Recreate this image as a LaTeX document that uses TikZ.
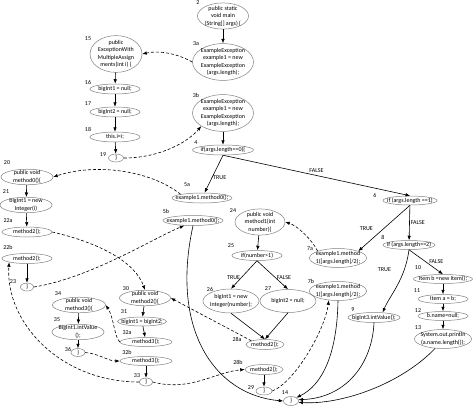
\documentclass[tikz,border=0pt]{standalone}
\usepackage{fontspec}
\setmainfont{Carlito}
\usetikzlibrary{shapes.geometric,arrows.meta}

\newcommand{\stmtfont}{\fontsize{6}{7.5}\selectfont}
\newcommand{\ctext}[1]{\makebox[0pt]{\begin{tabular}{@{}c@{}}#1\end{tabular}}}

\tikzset{
	stmt/.style={ellipse, draw=black!50, line width=0.5pt, inner xsep=0pt, inner ysep=-2pt, minimum width=50pt, minimum height=10pt, font=\stmtfont},
	brace/.style={stmt, minimum width=15pt, minimum height=8pt},
	num/.style={font=\stmtfont, inner sep=0pt},
	cond/.style={font=\stmtfont, inner sep=1pt},
	flow/.style={->, line width=0.6pt},
	call/.style={->, line width=0.6pt, densely dashed},
}

\begin{document}
\begin{tikzpicture}[x=1pt, y=-1pt, >={Latex[length=4.5pt,width=3.5pt]}]
\useasboundingbox (0,0) rectangle (474,410);

% main
\node[stmt, minimum width=51pt] (n2) at (223,16) {\ctext{public static\\void main\\(String[] args) \{}};
\node[stmt, minimum width=61pt] (n3a) at (223,62) {\ctext{ExampleException\\example1 = new\\ExampleException\\(args.length);}};
\node[stmt, minimum width=61pt] (n3b) at (223,113) {\ctext{ExampleException\\example1 = new\\ExampleException\\(args.length);}};
\node[stmt, minimum width=61pt] (n4) at (223,150) {\ctext{if(args.length==0)\{}};
\node[stmt, minimum width=60pt] (n5a) at (202,198) {\ctext{example1.method0();}};
\node[stmt, minimum width=60pt] (n5b) at (193,220.5) {\ctext{example1.method0();}};
\node[stmt, minimum width=54pt, minimum height=9pt] (n6) at (410,200.5) {\ctext{if (args.length ==1)}};
\node[stmt, minimum width=57pt, minimum height=19pt] (n7a) at (338,258) {\ctext{example1.method\\1([args.length]/2);}};
\node[stmt, minimum width=57pt, minimum height=19pt] (n7b) at (338,291) {\ctext{example1.method\\1([args.length]/2);}};
\node[stmt, minimum width=52pt, minimum height=9pt] (n8) at (409,245) {\ctext{if (args.length==2)}};
\node[stmt, minimum width=52pt] (n9) at (374,317.5) {\ctext{bigInt3.intValue();}};
\node[stmt, minimum width=59pt, minimum height=9pt] (n10) at (443,279) {\ctext{Item b =new Item();}};
\node[stmt, minimum height=9pt] (n11) at (443,299) {\ctext{Item a = b;}};
\node[stmt, minimum height=9pt] (n12) at (443,316) {\ctext{b.name=null;}};
\node[stmt, minimum width=57pt, minimum height=19pt] (n13) at (443,339) {\ctext{System.out.println\\(a.name.length());}};
\node[brace, minimum height=9pt] (n14) at (291,401) {\ctext{\}}};

% constructor
\node[stmt, minimum width=52pt] (n15) at (116,54) {\ctext{public\\ExceptionWith\\MultipleAssign\\ments(int i) \{}};
\node[stmt] (n16) at (115,89) {\ctext{bigInt1 = null;}};
\node[stmt] (n17) at (115,112) {\ctext{bigInt2 = null;}};
\node[stmt] (n18) at (115,137) {\ctext{this.i=i;}};
\node[brace] (n19) at (116,158) {\ctext{\}}};

% method0
\node[stmt, minimum width=52pt] (n20) at (27,177) {\ctext{public void\\method0()\{}};
\node[stmt, minimum width=52pt] (n21) at (26,205) {\ctext{bigInt1 = new\\Integer(i)}};
\node[stmt] (n22a) at (27,232) {\ctext{method2();}};
\node[stmt] (n22b) at (27,258.5) {\ctext{method2();}};
\node[brace, minimum width=13pt] (n23) at (27,287) {\ctext{\}}};

% method1
\node[stmt] (n24) at (260,222) {\ctext{public void\\method1(int\\number)\{}};
\node[stmt] (n25) at (257,255.5) {\ctext{if(number>1)}};
\node[stmt, minimum width=56pt, minimum height=24pt] (n26) at (231,301) {\ctext{bigInt1 = new\\Integer(number);}};
\node[stmt, minimum width=56pt, minimum height=23pt] (n27) at (288,301) {\ctext{bigInt2 = null;}};
\node[stmt, minimum width=38pt] (n28a) at (265,344.5) {\ctext{method2();}};
\node[stmt, minimum width=38pt] (n28b) at (264,369.5) {\ctext{method2();}};
\node[brace, minimum width=16pt] (n29) at (264,391) {\ctext{\}}};

% method2
\node[stmt, minimum width=51pt] (n30) at (145,298) {\ctext{public void\\method2()\{}};
\node[stmt, minimum width=49pt, minimum height=9pt] (n31) at (142,321.5) {\ctext{bigInt1 = bigInt2;}};
\node[stmt, minimum width=52pt, minimum height=9pt] (n32a) at (146,342) {\ctext{method3();}};
\node[stmt, minimum width=52pt, minimum height=9pt] (n32b) at (146,361) {\ctext{method3();}};
\node[brace, minimum width=13pt] (n33) at (146,382) {\ctext{\}}};

% method3
\node[stmt, minimum width=53pt] (n34) at (79,305) {\ctext{public void\\method3()\{}};
\node[stmt, minimum width=52pt] (n35) at (78,332) {\ctext{BigInt1.intValue\\();}};
\node[brace, minimum width=14pt] (n36) at (78,352.5) {\ctext{\}}};

% statement numbers
\foreach \lab/\px/\py in {2/198/3, 3a/196/44, 3b/196/95, 4/196/143, 5a/187/185, 5b/166/211,
	6/375/195, 7a/310/249, 7b/311/281, 8/383/237, 9/353/310, 10/418/268, 11/417/291,
	12/418/311, 13/418/328, 14/285/393, 15/88/39, 16/88/82, 17/88/104, 18/88/129,
	19/103/155, 20/7/163, 21/6/192, 22a/8/221, 22b/8/247, 23/13/282, 24/233/211,
	25/231/246, 26/210/289, 27/268/289, 28a/237/339, 28b/238/362, 29/251/388,
	30/126/289, 31/124/312, 32a/127/333, 32b/127/352, 33/137/376, 34/58/294,
	35/57/320, 36/68/349}
	\node[num] (l\lab) at (\px,\py) {\lab};

% control flow
\foreach \a/\b in {n2/n3a, n3b/n4, n15/n16, n16/n17, n17/n18, n18/n19, n20/n21, n21/n22a,
	n22b/n23, n24/n25, n28b/n29, n30/n31, n31/n32a, n32b/n33, n34/n35, n35/n36,
	n10/n11, n11/n12, n12/n13}
	\draw[flow] (\a) -- (\b);
\draw[flow] (n4.south) -- (n5a) node[cond, pos=0.6, right] {TRUE};
\draw[flow] (n4.south) -- (n6.north) node[cond, midway, above=1.5pt] {FALSE};
\draw[flow] (n6.south) -- (n7a.north east) node[cond, midway, left=10pt] {TRUE};
\draw[flow] (n6) -- (n8) node[cond, midway, right] {FALSE};
\draw[flow] (n8.south) -- (n10.north) node[cond, midway, right=2pt] {FALSE};
\draw[flow] (n8.south) .. controls (405,280) and (390,295) .. (n9.30) node[cond, pos=0.25, left=12pt] {TRUE};
\draw[flow] (n25.south) -- (n26.north) node[cond, pos=0.6, left] {TRUE};
\draw[flow] (n25.south) -- (n27.north) node[cond, pos=0.6, right] {FALSE};
\draw[flow] (n26.south) -- (n28a.north);
\draw[flow] (n27.south) -- (n28a.north);
\draw[flow] (n5b.south) .. controls (170,330) and (215,395) .. (n14.west);
\draw[flow] (n7b.south) .. controls (337,355) and (322,385) .. (n14.north east);
\draw[flow] (n9.south) .. controls (372,365) and (345,398) .. (n14.10);
\draw[flow] (n13.230) .. controls (400,385) and (340,405) .. (n14.-10);

% calls and returns
\draw[call] (n3a.west) .. controls (178,54) and (160,50) .. (n15.east);
\draw[call] (n19.east) .. controls (160,158) and (188,142) .. (n3b.south west);
\draw[call] (n5a.north west) .. controls (150,170) and (95,163) .. (n20.east);
\draw[call] (n22a.east) .. controls (100,243) and (135,262) .. (n30.north);
\draw[call] (n23.east) .. controls (90,278) and (150,240) .. (n5b.210);
\draw[call] (n7a.north west) .. controls (312,240) and (298,226) .. (n24.east);
\draw[call] (n28a.north west) -- (n30.east);
\draw[call] (n32a.west) .. controls (114,336) and (114,318) .. (n34.east);
\draw[call] (n36.east) .. controls (100,354) and (108,361) .. (n32b.west);
\draw[call] (n33.east) .. controls (190,392) and (215,372) .. (n28b.west);
\draw[call] (n33.west) .. controls (60,382) and (5,322) .. (n22b.south west);
\draw[call] (n29.east) .. controls (295,382) and (325,330) .. (n7b.225);
\end{tikzpicture}
\end{document}
